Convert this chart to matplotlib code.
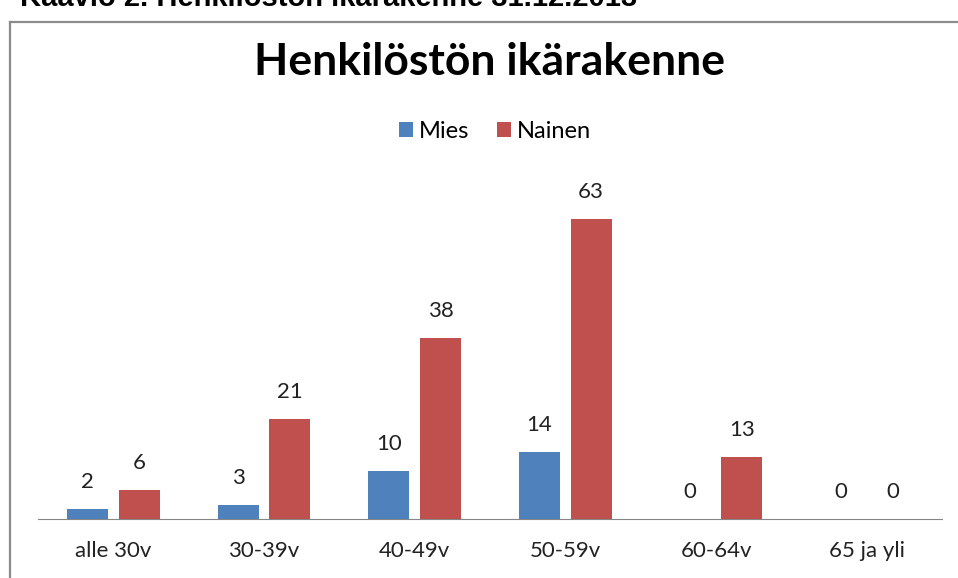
import matplotlib.pyplot as plt
from matplotlib.lines import Line2D
import numpy as np

# data
categories = ['alle 30v', '30-39v', '40-49v', '50-59v', '60-64v', '65 ja yli']
mies = [2, 3, 10, 14, 0, 0]
nainen = [6, 21, 38, 63, 13, 0]
series_names = ['Mies', 'Nainen']

W, H = 958, 578
plt.rcParams['font.family'] = ['Lato', 'DejaVu Sans']

fig = plt.figure(figsize=(W / 100, H / 100), dpi=100)
ax = fig.add_axes([38 / W, 59 / H, (942 - 38) / W, (519 - 186) / H])

x = np.arange(len(categories))
bw = 0.27
gap = 0.073
blue = '#4F81BD'
red = '#C0504D'
b1 = ax.bar(x - (bw + gap) / 2, mies, bw, color=blue, label=series_names[0])
b2 = ax.bar(x + (bw + gap) / 2, nainen, bw, color=red, label=series_names[1])

for bars in (b1, b2):
    for r in bars:
        h = r.get_height()
        ax.text(r.get_x() + r.get_width() / 2, h + 3.6, str(int(h)),
                ha='center', va='bottom', fontsize=16, color='#222222')

ax.set_xlim(-0.5, len(categories) - 0.5)
ax.set_ylim(0, 70)
ax.set_xticks(x)
ax.set_xticklabels(categories, fontsize=16, color='#222222')
ax.tick_params(axis='x', length=0, pad=16)
ax.set_yticks([])
for s in ['top', 'left', 'right']:
    ax.spines[s].set_visible(False)
ax.spines['bottom'].set_color('#868686')

fig.text(489 / W, 1 - 62 / H, 'Henkilöstön ikärakenne', ha='center', va='center',
         fontsize=32, fontweight='bold', color='black')

fig.legend(handles=[b1, b2], labels=series_names, loc='center',
           bbox_to_anchor=(495 / W, 1 - 131 / H), ncol=2, frameon=False,
           fontsize=17, handlelength=0.6, handleheight=0.6,
           handletextpad=0.25, columnspacing=1.2)

# cut-off caption above the chart box
fig.text(20 / W, 1 - 5.5 / H, 'Kaavio 2. Henkilöstön ikärakenne 31.12.2013',
         ha='left', va='baseline', fontsize=21, fontweight='bold',
         family='Liberation Sans', color='black')

# chart border (left and top edges)
fig.add_artist(Line2D([9.5 / W, 9.5 / W], [0, 1 - 22 / H], color='#8c8c8c', lw=1.6))
fig.add_artist(Line2D([9.5 / W, 1], [1 - 22 / H, 1 - 22 / H], color='#8c8c8c', lw=1.6))

fig.savefig('out.png', dpi=100)
